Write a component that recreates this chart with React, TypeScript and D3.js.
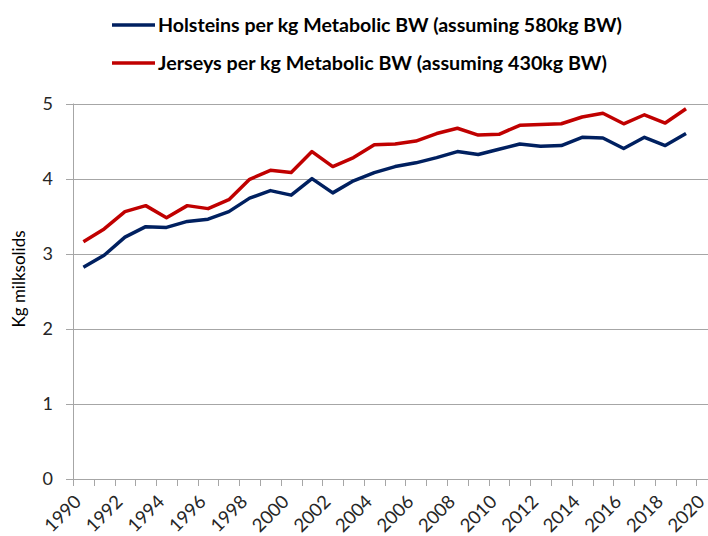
import * as React from 'react';
import { select, scaleBand, scaleLinear, line } from 'd3';

const { useRef, useEffect } = React;

// categories on the x axis (one band per year, 2020 has no data)
const years = [
    1990, 1991, 1992, 1993, 1994, 1995, 1996, 1997, 1998, 1999,
    2000, 2001, 2002, 2003, 2004, 2005, 2006, 2007, 2008, 2009,
    2010, 2011, 2012, 2013, 2014, 2015, 2016, 2017, 2018, 2019, 2020,
];

const holsteins = [
    2.82, 2.98, 3.22, 3.36, 3.35, 3.43, 3.46, 3.56, 3.74, 3.84,
    3.78, 4.0, 3.81, 3.97, 4.08, 4.16, 4.21, 4.28, 4.36, 4.32,
    4.39, 4.46, 4.43, 4.44, 4.55, 4.54, 4.4, 4.55, 4.44, 4.6,
];

const jerseys = [
    3.16, 3.33, 3.56, 3.64, 3.48, 3.64, 3.6, 3.72, 3.99, 4.11,
    4.08, 4.36, 4.16, 4.28, 4.45, 4.46, 4.5, 4.6, 4.67, 4.58,
    4.59, 4.71, 4.72, 4.73, 4.82, 4.87, 4.73, 4.85, 4.74, 4.93,
];

const yTicks = [0, 1, 2, 3, 4, 5];
const xTickLabels = [1990, 1992, 1994, 1996, 1998, 2000, 2002, 2004, 2006, 2008, 2010, 2012, 2014, 2016, 2018, 2020];

const seriesNames = [
    'Holsteins per kg Metabolic BW (assuming 580kg BW)',
    'Jerseys per kg Metabolic BW (assuming 430kg BW)',
];

const BLUE = '#002060';
const RED = '#C00000';
const GRID = '#a6a6a6';
const FONT = 'Lato, "Open Sans", sans-serif';

const App = (): JSX.Element => {
    const svgRef = useRef(null);

    useEffect(() => {
        const svg = select(svgRef.current);
        svg.selectAll('*').remove();

        const left = 73;
        const step = 20.78;
        const xScale = scaleBand<number>()
            .domain(years)
            .range([left, left + step * years.length])
            .paddingInner(0)
            .paddingOuter(0);

        const yScale = scaleLinear()
            .domain([0, 5])
            .range([479, 103.5]);

        const xMid = (yr: number) => (xScale(yr) as number) + xScale.bandwidth() / 2;

        // gridlines + left ticks
        svg.append('g')
            .selectAll('line')
            .data(yTicks)
            .join('line')
            .attr('x1', left - 7)
            .attr('x2', 708)
            .attr('y1', d => Math.round(yScale(d)) + 0.5)
            .attr('y2', d => Math.round(yScale(d)) + 0.5)
            .attr('stroke', GRID)
            .attr('stroke-width', 1);

        // y axis line
        svg.append('line')
            .attr('x1', left + 0.5)
            .attr('x2', left + 0.5)
            .attr('y1', yScale(5))
            .attr('y2', Math.round(yScale(0)) + 0.5)
            .attr('stroke', GRID);

        // y tick labels
        svg.append('g')
            .selectAll('text')
            .data(yTicks)
            .join('text')
            .attr('x', 53)
            .attr('y', d => yScale(d))
            .attr('dy', '0.36em')
            .attr('text-anchor', 'end')
            .attr('font-family', FONT)
            .attr('font-size', 18)
            .attr('fill', '#262626')
            .text(d => d);

        // x ticks at band boundaries
        const boundaries = years.map(y => xScale(y) as number).concat([left + step * years.length]);
        svg.append('g')
            .selectAll('line')
            .data(boundaries)
            .join('line')
            .attr('x1', d => Math.round(d) + 0.5)
            .attr('x2', d => Math.round(d) + 0.5)
            .attr('y1', Math.round(yScale(0)) + 0.5)
            .attr('y2', Math.round(yScale(0)) + 7)
            .attr('stroke', GRID);

        // x labels, rotated
        svg.append('g')
            .selectAll('text')
            .data(xTickLabels)
            .join('text')
            .attr('text-anchor', 'end')
            .attr('transform', d => `translate(${xMid(d) - 1},${503}) rotate(-45)`)
            .attr('font-family', FONT)
            .attr('font-size', 18.5)
            .attr('fill', '#262626')
            .text(d => d);

        // y axis title
        svg.append('text')
            .attr('transform', `translate(25,279) rotate(-90)`)
            .attr('text-anchor', 'middle')
            .attr('font-family', FONT)
            .attr('font-size', 17)
            .attr('fill', '#000')
            .text('Kg milksolids');

        const myLine = line<number>()
            .x((v, i) => xMid(years[i]))
            .y(v => yScale(v));

        svg.append('path')
            .datum(jerseys)
            .attr('d', myLine)
            .attr('fill', 'none')
            .attr('stroke', RED)
            .attr('stroke-width', 3.5)
            .attr('stroke-linejoin', 'round');

        svg.append('path')
            .datum(holsteins)
            .attr('d', myLine)
            .attr('fill', 'none')
            .attr('stroke', BLUE)
            .attr('stroke-width', 3.5)
            .attr('stroke-linejoin', 'round');

        // legend
        const legend = svg.append('g');
        const colors = [BLUE, RED];
        const rowY = [25, 63];
        const widths = [464, 449];
        seriesNames.forEach((name, i) => {
            legend.append('line')
                .attr('x1', 112)
                .attr('x2', 155)
                .attr('y1', rowY[i])
                .attr('y2', rowY[i])
                .attr('stroke', colors[i])
                .attr('stroke-width', 3.5);
            legend.append('text')
                .attr('x', 158)
                .attr('y', rowY[i])
                .attr('dy', '0.35em')
                .attr('font-family', FONT)
                .attr('font-weight', 700)
                .attr('font-size', 19.5)
                .attr('fill', '#000')
                .attr('textLength', widths[i])
                .attr('lengthAdjust', 'spacingAndGlyphs')
                .text(name);
        });
    }, []);

    return (
        <svg
            ref={svgRef}
            width={708}
            height={536}
            style={{ position: 'absolute', left: 0, top: 0, background: '#fff' }}
        />
    );
};

export default App;
